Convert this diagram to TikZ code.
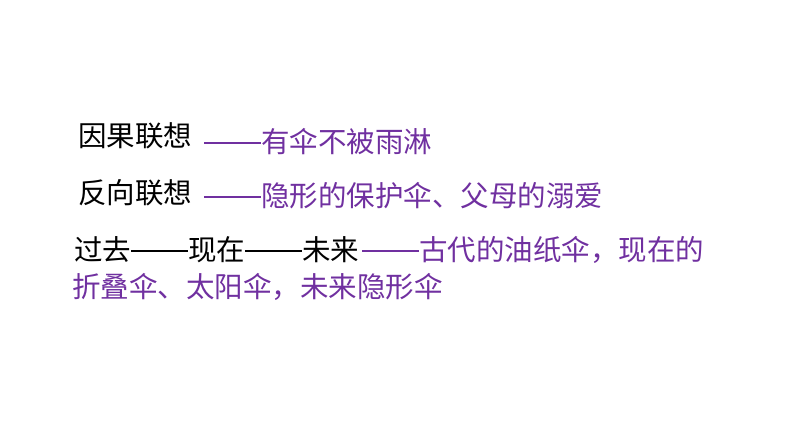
\documentclass[tikz,border=0pt]{standalone}
\usepackage{fontspec}
\newfontfamily\cjk{Noto Sans CJK SC}
\definecolor{pur}{HTML}{7030A0}
\newcommand\ddash{\rule[0.3em]{2em}{0.07em}}
\begin{document}
\begin{tikzpicture}[x=1pt,y=1pt,
  t/.style={anchor=west,inner sep=0pt,font=\cjk\fontsize{28.5}{32}\selectfont},
  p/.style={t,text=pur}]
\useasboundingbox (0,0) rectangle (794,447);
\node[t] (a1) at (78,311) {因果联想};
\node[p] (a2) at (204,305) {\ddash 有伞不被雨淋};
\node[t] (b1) at (78,254) {反向联想};
\node[p] (b2) at (204,251) {\ddash 隐形的保护伞、父母的溺爱};
\node[t] (c1) at (74,197) {过去\ddash 现在\ddash 未来};
\node[p] (c2) at (362,197) {\ddash 古代的油纸伞，现在的};
\node[p] (d1) at (72,160) {折叠伞、太阳伞，未来隐形伞};
\end{tikzpicture}
\end{document}
